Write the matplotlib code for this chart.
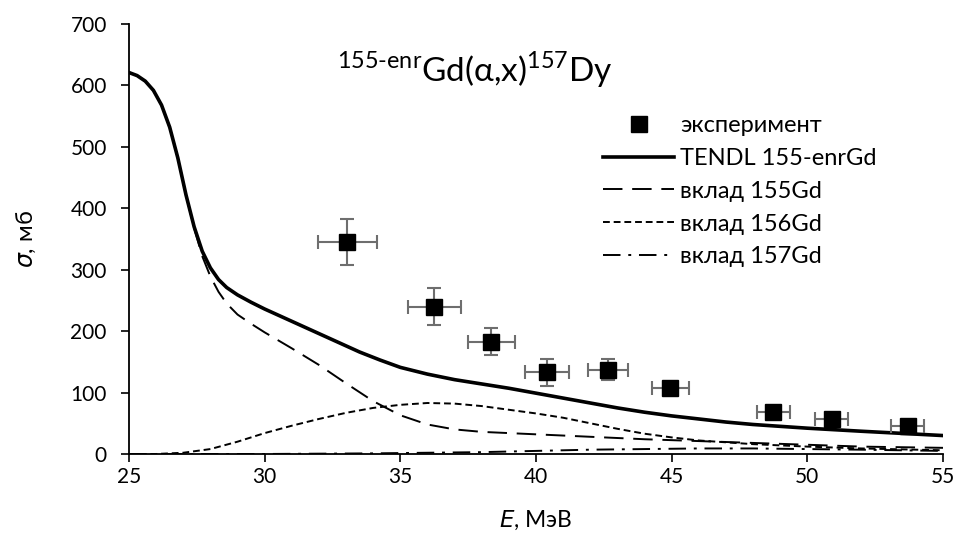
import numpy as np
import matplotlib.pyplot as plt

plt.rcParams['font.family'] = ['Lato', 'DejaVu Sans']

# экспериментальные точки
E_exp = [33.05, 36.25, 38.35, 40.4, 42.65, 44.95, 48.75, 50.9, 53.7]
s_exp = [345, 240, 183, 133, 137, 107, 68, 57, 46]
dE_exp = [1.1, 0.98, 0.87, 0.8, 0.74, 0.68, 0.6, 0.6, 0.6]
ds_exp = [38, 30, 22, 22, 17, 10, 8, 7, 7]

# TENDL 155-enrGd
E_t = [25, 25.3, 25.6, 25.9, 26.2, 26.5, 26.8, 27.1, 27.4, 27.7, 28.0, 28.3, 28.6, 29.0, 29.5,
       30, 30.6, 31.5, 32.5, 33.5, 34.25, 35, 36, 37, 38, 39, 40, 41, 42, 43, 44, 45, 46,
       47, 48, 50, 52, 55]
s_t = [621, 616, 607, 592, 568, 532, 482, 422, 370, 330, 303, 284, 271, 259, 247,
       236, 224, 206, 186, 166, 153, 141, 130, 121, 114, 107, 99, 91, 83, 75, 68, 62, 57,
       52, 48, 42, 37, 30]

# вклад 155Gd
E_155 = [25, 25.3, 25.6, 25.9, 26.2, 26.5, 26.8, 27.1, 27.4, 27.7, 28.0, 28.3, 28.6, 29.0,
         29.5, 30, 31, 32, 33, 34, 35, 36, 37, 38, 40, 42, 44, 46, 48, 50, 52, 55]
s_155 = [621, 616, 607, 592, 568, 532, 482, 422, 368, 322, 289, 264, 245, 227,
         212, 198, 172, 145, 115, 86, 63, 48, 40, 36, 32, 28, 24, 21, 18, 15, 12, 10]

# вклад 156Gd
E_156 = [25, 26, 27, 28, 29, 30, 31, 32, 33, 34, 35, 36, 37, 38, 39, 40, 41, 42, 43, 44,
         45, 46, 48, 50, 52, 55]
s_156 = [0, 0, 2, 8, 20, 34, 46, 57, 67, 75, 80, 83, 82, 78, 72, 66, 59, 50, 41, 33,
         27, 22, 16, 12, 9, 6]

# вклад 157Gd
E_157 = [25, 28, 30, 32, 34, 36, 38, 40, 42, 44, 46, 48, 50, 52, 55]
s_157 = [0, 0, 0, 0.5, 1, 2, 3, 5, 7, 8, 9, 9, 8, 7, 5]

fig, ax = plt.subplots(figsize=(9.59, 5.37), dpi=100)
fig.subplots_adjust(left=0.1345, right=0.9833, top=0.9553, bottom=0.1546)

ax.errorbar(E_exp, s_exp, xerr=dE_exp, yerr=ds_exp, fmt='none', ecolor='#6e6e6e',
            elinewidth=1.5, capsize=5, capthick=1.5, zorder=3)
ax.plot(E_exp, s_exp, 's', color='black', markersize=11, linestyle='none',
        label='эксперимент', zorder=4)
ax.plot(E_t, s_t, '-', color='black', lw=2.6, label='TENDL 155-enrGd')
ax.plot(E_155, s_155, color='black', lw=1.4, dashes=(10, 5), label='вклад 155Gd')
ax.plot(E_156, s_156, color='black', lw=1.4, dashes=(3.5, 2), label='вклад 156Gd')
ax.plot(E_157, s_157, color='black', lw=1.4, dashes=(9, 4, 1.5, 4), label='вклад 157Gd')

ax.set_xlim(25, 55)
ax.set_ylim(0, 700)
ax.set_xticks(np.arange(25, 56, 5))
ax.set_yticks(np.arange(0, 701, 100))
ax.spines['top'].set_visible(False)
ax.spines['right'].set_visible(False)
ax.spines['left'].set_linewidth(1.3)
ax.spines['bottom'].set_linewidth(1.3)
ax.tick_params(labelsize=15, length=6, width=1.2)
ax.tick_params(axis='y', pad=10)

ax.set_xlabel('$\\it{E}$, МэВ', fontsize=16.5)
ax.xaxis.set_label_coords(0.5, -0.128)
ax.set_ylabel('$\\it{σ}$, мб', fontsize=17)
ax.yaxis.set_label_coords(-0.112, 0.5)

ax.text(0.425, 0.893, '$^{\\mathregular{155\u2010enr}}$Gd(α,x)$^{\\mathregular{157}}$Dy',
        transform=ax.transAxes, ha='center', va='center', fontsize=24)

ax.legend(loc='upper left', bbox_to_anchor=(0.571, 0.81), frameon=False, fontsize=17,
          handlelength=3.0, labelspacing=0.5, handletextpad=0.25, borderaxespad=0)

plt.savefig('out.png')
